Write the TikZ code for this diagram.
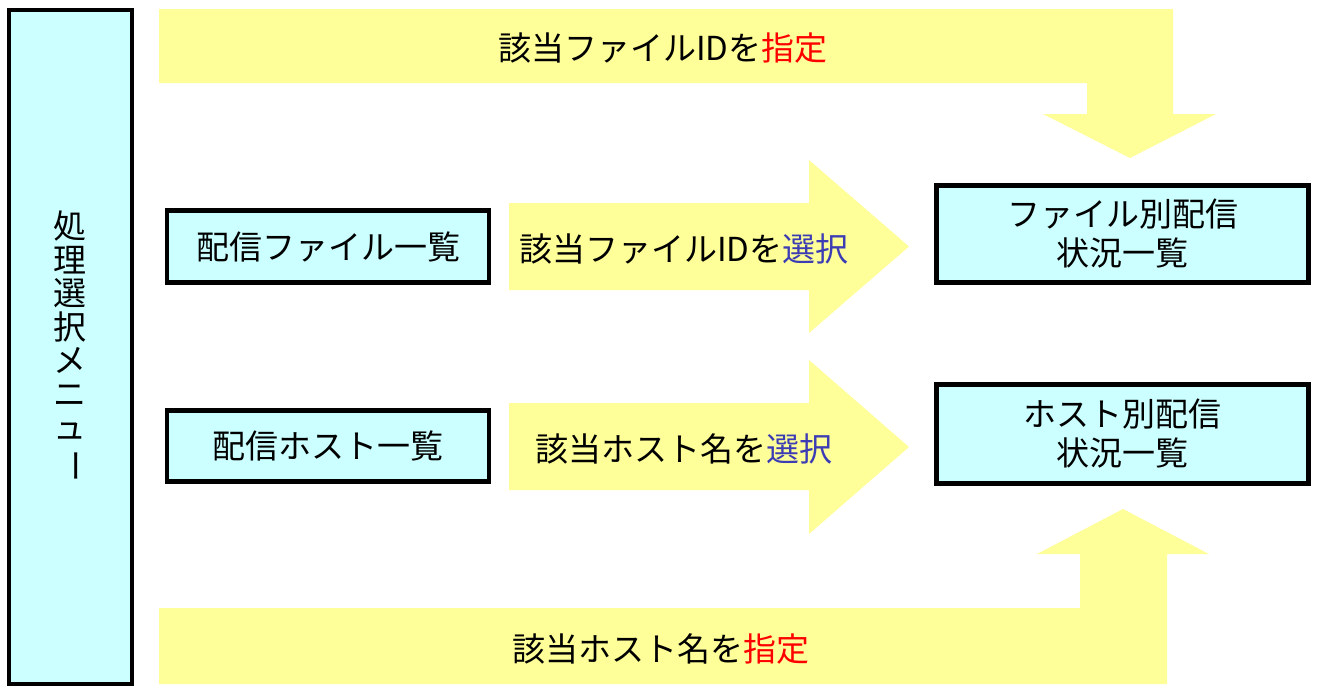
\documentclass[tikz,border=0pt]{standalone}
\usepackage{fontspec}
\setmainfont{Noto Sans CJK JP}
\definecolor{boxcyan}{HTML}{CCFFFF}
\definecolor{bandyellow}{HTML}{FFFF99}
\definecolor{keyred}{HTML}{FF0000}
\definecolor{keyblue}{HTML}{3C3CB4}
\tikzset{
  screen/.style={draw=black, line width=2.2pt, fill=boxcyan, align=center, inner sep=0pt},
  band/.style={fill=bandyellow},
  lbl/.style={inner sep=0pt}
}
\begin{document}
\begin{tikzpicture}[x=0.5pt, y=-0.5pt, font=\fontsize{16.5pt}{19.5pt}\selectfont]
\useasboundingbox (0,0) rectangle (1318,693);
% wide bent arrows
\fill[band] (159,9)--(1173,9)--(1173,114)--(1216,114)--(1130,158)--(1043,114)
  --(1087,114)--(1087,83)--(159,83)--cycle;
\fill[band] (159,684)--(1167,684)--(1167,554)--(1209,554)--(1123,509)--(1037,554)
  --(1080,554)--(1080,608)--(159,608)--cycle;
% straight arrows
\foreach \ya/\yb/\yc/\yd in {160/203/290/333, 360/403/490/534}
{
\fill[band] (509,\yb)--(809,\yb)--(809,\ya)--(909,{(\ya+\yd)/2})--(809,\yd)
  --(809,\yc)--(509,\yc)--cycle;
}

\node[screen, minimum width=61.25pt, minimum height=337pt,
  font=\fontsize{16.5pt}{16.75pt}\selectfont] (menu) at (70.5,347)
  {処\\理\\選\\択\\メ\\ニ\\ュ\\\rotatebox[origin=c]{-90}{ー}};
\node[screen, minimum width=161pt, minimum height=36pt] (filelist) at (328,246.5) {配信ファイル一覧};
\node[screen, minimum width=161pt, minimum height=35.5pt] (hostlist) at (328,446) {配信ホスト一覧};
\node[screen, minimum width=186pt, minimum height=48.5pt] (filestat) at (1122.5,234) {ファイル別配信\\状況一覧};
\node[screen, minimum width=186pt, minimum height=49.5pt] (hoststat) at (1122.5,434) {ホスト別配信\\状況一覧};

\node[lbl] (fileid) at (663,48) {該当ファイルIDを\textcolor{keyred}{指定}};
\node[lbl] (filesel) at (684,249) {該当ファイルIDを\textcolor{keyblue}{選択}};
\node[lbl] (hostsel) at (684,449) {該当ホスト名を\textcolor{keyblue}{選択}};
\node[lbl] (hostname) at (661,649) {該当ホスト名を\textcolor{keyred}{指定}};
\end{tikzpicture}
\end{document}
